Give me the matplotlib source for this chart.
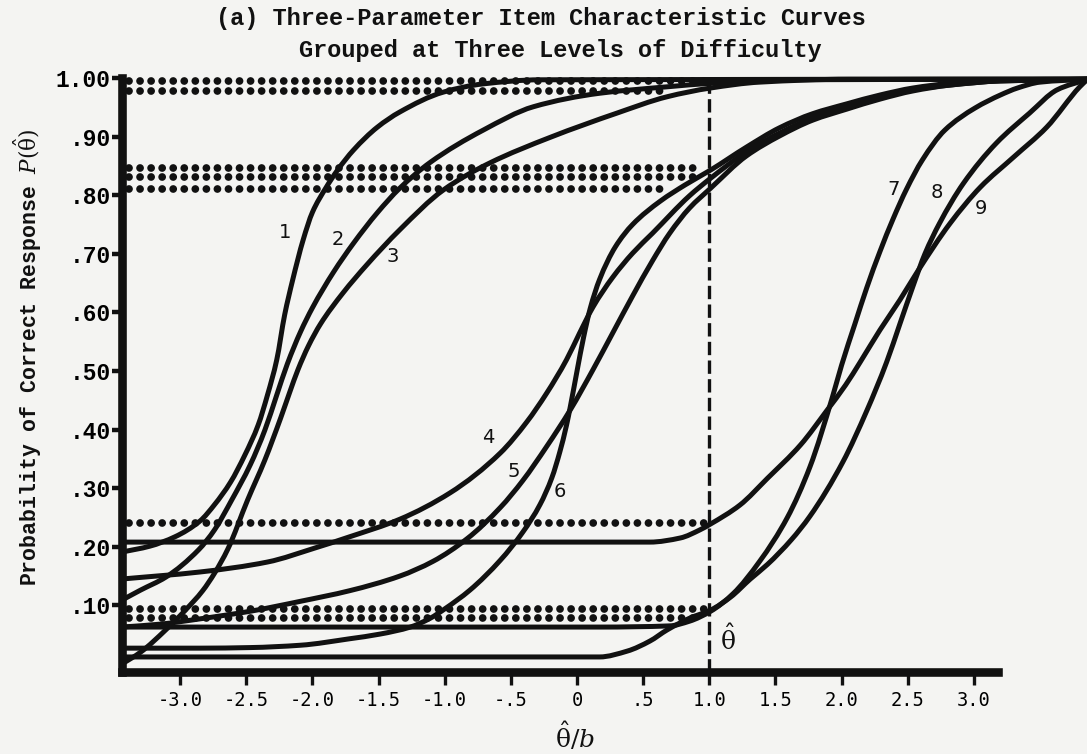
import numpy as np
import matplotlib
matplotlib.use('Agg')
import matplotlib.pyplot as plt
from matplotlib.path import Path
from matplotlib.patches import PathPatch

# item characteristic curves, read as (theta/b, P) pairs
curve1_x = [-3.44, -3.23, -3.04, -2.85, -2.74, -2.62, -2.51, -2.41, -2.34, -2.27, -2.21, -2.15,
            -2.07, -2.00, -1.90, -1.81, -1.69, -1.51, -1.34, -1.01, -0.71, -0.28, 3.86]
curve1_p = [0.191, 0.201, 0.217, 0.244, 0.272, 0.310, 0.357, 0.408, 0.459, 0.519, 0.596, 0.655,
            0.724, 0.771, 0.812, 0.843, 0.877, 0.916, 0.942, 0.976, 0.990, 0.997, 0.998]

curve2_x = [-3.44, -3.30, -3.11, -2.86, -2.74, -2.61, -2.47, -2.36, -2.27, -2.19, -2.09, -2.00,
            -1.84, -1.69, -1.51, -1.34, -1.11, -0.71, -0.33, 0.17, 0.68, 1.01, 1.53, 3.86]
curve2_p = [0.109, 0.126, 0.148, 0.195, 0.229, 0.280, 0.340, 0.399, 0.459, 0.512, 0.567, 0.608,
            0.669, 0.718, 0.770, 0.812, 0.856, 0.911, 0.951, 0.974, 0.985, 0.991, 0.997, 0.998]

curve3_x = [-3.44, -3.30, -3.11, -2.96, -2.83, -2.74, -2.64, -2.49, -2.36, -2.24, -2.17, -2.11,
            -2.03, -1.94, -1.77, -1.59, -1.34, -1.01, -0.66, -0.20, 0.30, 0.68, 1.01, 1.38, 2.06,
            3.86]
curve3_p = [0.000, 0.020, 0.058, 0.092, 0.125, 0.155, 0.196, 0.280, 0.348, 0.420, 0.465, 0.502,
            0.543, 0.580, 0.633, 0.681, 0.741, 0.809, 0.855, 0.899, 0.940, 0.968, 0.983, 0.993,
            0.998, 0.998]

curve4_x = [-3.44, -2.85, -2.34, -1.98, -1.72, -1.34, -0.96, -0.58, -0.38, -0.23, -0.08, 0.02,
            0.12, 0.27, 0.42, 0.57, 0.85, 1.01, 1.28, 1.53, 1.78, 2.04, 2.29, 2.54, 2.82, 3.20, 3.86]
curve4_p = [0.145, 0.157, 0.174, 0.198, 0.217, 0.247, 0.292, 0.360, 0.413, 0.462, 0.519, 0.565,
            0.609, 0.660, 0.701, 0.735, 0.799, 0.829, 0.874, 0.906, 0.932, 0.951, 0.966, 0.980,
            0.988, 0.995, 0.998]

curve5_x = [-3.44, -3.15, -2.85, -2.47, -2.09, -1.72, -1.34, -1.09, -0.83, -0.58, -0.41, -0.23,
            -0.05, 0.12, 0.27, 0.42, 0.57, 0.70, 0.85, 1.01, 1.28, 1.53, 1.78, 2.04, 2.29, 2.54,
            2.82, 3.20, 3.86]
curve5_p = [0.063, 0.068, 0.077, 0.090, 0.107, 0.125, 0.150, 0.175, 0.214, 0.267, 0.313, 0.371,
            0.434, 0.502, 0.565, 0.628, 0.688, 0.735, 0.778, 0.812, 0.867, 0.901, 0.928, 0.947,
            0.964, 0.978, 0.988, 0.995, 0.998]

curve6_x = [-3.44, -2.85, -2.47, -2.09, -1.72, -1.49, -1.26, -1.11, -1.00, -0.81, -0.58, -0.41,
            -0.28, -0.19, -0.13, -0.08, -0.05, 0.00, 0.05, 0.10, 0.17, 0.29, 0.42, 0.63, 0.82,
            1.01, 1.28, 1.53, 1.78, 2.04, 2.29, 2.54, 2.82, 3.20, 3.86]
curve6_p = [0.027, 0.027, 0.028, 0.032, 0.043, 0.051, 0.063, 0.078, 0.094, 0.126, 0.177, 0.225,
            0.272, 0.318, 0.362, 0.407, 0.440, 0.500, 0.558, 0.607, 0.656, 0.712, 0.750, 0.790,
            0.818, 0.843, 0.882, 0.915, 0.939, 0.956, 0.971, 0.983, 0.991, 0.997, 0.998]

curve7_x = [-3.44, 0.17, 0.70, 0.85, 1.01, 1.18, 1.38, 1.59, 1.76, 1.93, 2.00, 2.10, 2.19, 2.29,
            2.39, 2.49, 2.61, 2.78, 3.01, 3.20, 3.33, 3.50, 3.86]
curve7_p = [0.063, 0.063, 0.065, 0.073, 0.090, 0.120, 0.175, 0.250, 0.336, 0.455, 0.510, 0.580,
            0.642, 0.704, 0.760, 0.810, 0.860, 0.911, 0.949, 0.971, 0.983, 0.993, 0.998]

curve8_x = [-3.44, 0.17, 0.38, 0.55, 0.68, 0.85, 1.01, 1.16, 1.31, 1.44, 1.62, 1.76, 2.01, 2.19,
            2.34, 2.44, 2.54, 2.63, 2.74, 2.92, 3.17, 3.42, 3.63, 3.86]
curve8_p = [0.012, 0.012, 0.022, 0.039, 0.058, 0.078, 0.092, 0.114, 0.145, 0.170, 0.212, 0.252,
            0.345, 0.432, 0.515, 0.580, 0.645, 0.700, 0.752, 0.820, 0.889, 0.940, 0.980, 0.998]

curve9_x = [-3.44, 0.55, 0.78, 0.93, 1.01, 1.23, 1.44, 1.69, 1.89, 2.03, 2.14, 2.29, 2.44, 2.58,
            2.82, 3.05, 3.30, 3.55, 3.80, 3.86]
curve9_p = [0.208, 0.208, 0.215, 0.229, 0.239, 0.271, 0.317, 0.374, 0.433, 0.476, 0.515, 0.570,
            0.621, 0.672, 0.752, 0.814, 0.865, 0.916, 0.985, 0.998]

curves = [(curve1_x, curve1_p), (curve2_x, curve2_p), (curve3_x, curve3_p),
          (curve4_x, curve4_p), (curve5_x, curve5_p), (curve6_x, curve6_p),
          (curve7_x, curve7_p), (curve8_x, curve8_p), (curve9_x, curve9_p)]

# curve numbers and where they are written
label_text = ['1', '2', '3', '4', '5', '6', '7', '8', '9']
label_x = [-2.21, -1.81, -1.39, -0.67, -0.48, -0.13, 2.39, 2.72, 3.05]
label_p = [0.737, 0.724, 0.695, 0.386, 0.328, 0.294, 0.809, 0.804, 0.778]

# P at theta-hat = 1.0 for each group, drawn as dotted rows
dot_p = [0.995, 0.978, 0.846, 0.831, 0.811, 0.241, 0.094, 0.078]
dot_end = [1.0, 0.68, 0.95, 0.95, 0.68, 0.98, 0.98, 0.95]

theta_hat = 1.0
x_ticks = [-3.0, -2.5, -2.0, -1.5, -1.0, -0.5, 0.0, 0.5, 1.0, 1.5, 2.0, 2.5, 3.0]
x_ticklabels = ['-3.0', '-2.5', '-2.0', '-1.5', '-1.0', '-.5', '0', '.5', '1.0', '1.5',
                '2.0', '2.5', '3.0']
y_ticks = [0.1, 0.2, 0.3, 0.4, 0.5, 0.6, 0.7, 0.8, 0.9, 1.0]
y_ticklabels = ['.10', '.20', '.30', '.40', '.50', '.60', '.70', '.80', '.90', '1.00']


def smooth_path(x, y):
    # monotone cubic (Fritsch-Carlson) through the points, as Bezier segments
    x = np.asarray(x, float)
    y = np.asarray(y, float)
    h = np.diff(x)
    d = np.diff(y) / h
    m = np.zeros_like(y)
    m[0], m[-1] = d[0], d[-1]
    for k in range(1, len(x) - 1):
        if d[k - 1] * d[k] <= 0:
            m[k] = 0.0
        else:
            w1 = 2 * h[k] + h[k - 1]
            w2 = h[k] + 2 * h[k - 1]
            m[k] = (w1 + w2) / (w1 / d[k - 1] + w2 / d[k])
    verts = [(x[0], y[0])]
    codes = [Path.MOVETO]
    for i in range(len(h)):
        verts += [(x[i] + h[i] / 3, y[i] + m[i] * h[i] / 3),
                  (x[i + 1] - h[i] / 3, y[i + 1] - m[i + 1] * h[i] / 3),
                  (x[i + 1], y[i + 1])]
        codes += [Path.CURVE4] * 3
    return Path(verts, codes)


plt.rcParams['font.family'] = ['Liberation Mono', 'DejaVu Sans']
plt.rcParams['mathtext.fontset'] = 'dejavuserif'
ink = '#111111'
paper = '#f4f4f2'

fig = plt.figure(figsize=(10.87, 7.54), dpi=100, facecolor=paper)
ax = fig.add_axes([0.1122, 0.10875, 0.8878, 0.8033])
ax.set_facecolor(paper)
ax.set_xlim(-3.44, 3.855)
ax.set_ylim(-0.0137, 1.02)

for x, p in curves:
    ax.add_patch(PathPatch(smooth_path(x, p), fill=False, edgecolor=ink, lw=3.6,
                           joinstyle='round', capstyle='round'))

for p, end in zip(dot_p, dot_end):
    ax.plot([-3.39, end], [p, p], color=ink, lw=5.6,
            linestyle=(0, (0.001, 1.42)), dash_capstyle='round')

ax.plot([theta_hat, theta_hat], [-0.0137, 1.0], color=ink, lw=2.4,
        linestyle=(0, (4.0, 1.6)), dash_capstyle='butt')

for t, x, p in zip(label_text, label_x, label_p):
    ax.text(x, p, t, fontsize=14, family='DejaVu Sans', color=ink, ha='center', va='center')

ax.text(1.14, 0.041, r'$\hat{\mathrm{\theta}}$', fontsize=18, color=ink, ha='center', va='center')

for side in ['top', 'right']:
    ax.spines[side].set_visible(False)
ax.spines['left'].set_linewidth(6.2)
ax.spines['bottom'].set_linewidth(6.2)
ax.spines['left'].set_color(ink)
ax.spines['bottom'].set_color(ink)
ax.spines['left'].set_bounds(-0.0137, 1.0)
ax.spines['bottom'].set_bounds(-3.44, 3.18)

ax.set_xticks(x_ticks)
ax.set_xticklabels(x_ticklabels, family='DejaVu Sans Mono', fontsize=13.5)
ax.set_yticks(y_ticks)
ax.set_yticklabels(y_ticklabels, fontsize=16.5, fontweight='bold')
ax.tick_params(axis='x', direction='out', length=9, width=2.4, color=ink, pad=5)
ax.tick_params(axis='y', direction='out', length=7, width=3.2, color=ink, pad=1)

fig.text(575 / 1087, 1 - 737 / 754, r'$\hat{\mathrm{\theta}}/b$', fontsize=18, color=ink,
         ha='center', va='center')
fig.text(28 / 1087, 1 - 357 / 754, r'Probability of Correct Response $P(\hat{\mathrm{\theta}})$',
         fontsize=15.5, fontweight='bold', rotation=90, color=ink, ha='center', va='center')
fig.text(541 / 1087, 1 - 18 / 754, '(a) Three-Parameter Item Characteristic Curves',
         fontsize=17, fontweight='bold', color=ink, ha='center', va='center')
fig.text(560 / 1087, 1 - 50 / 754, 'Grouped at Three Levels of Difficulty',
         fontsize=17, fontweight='bold', color=ink, ha='center', va='center')

fig.savefig('out.png', dpi=100, facecolor=paper)
